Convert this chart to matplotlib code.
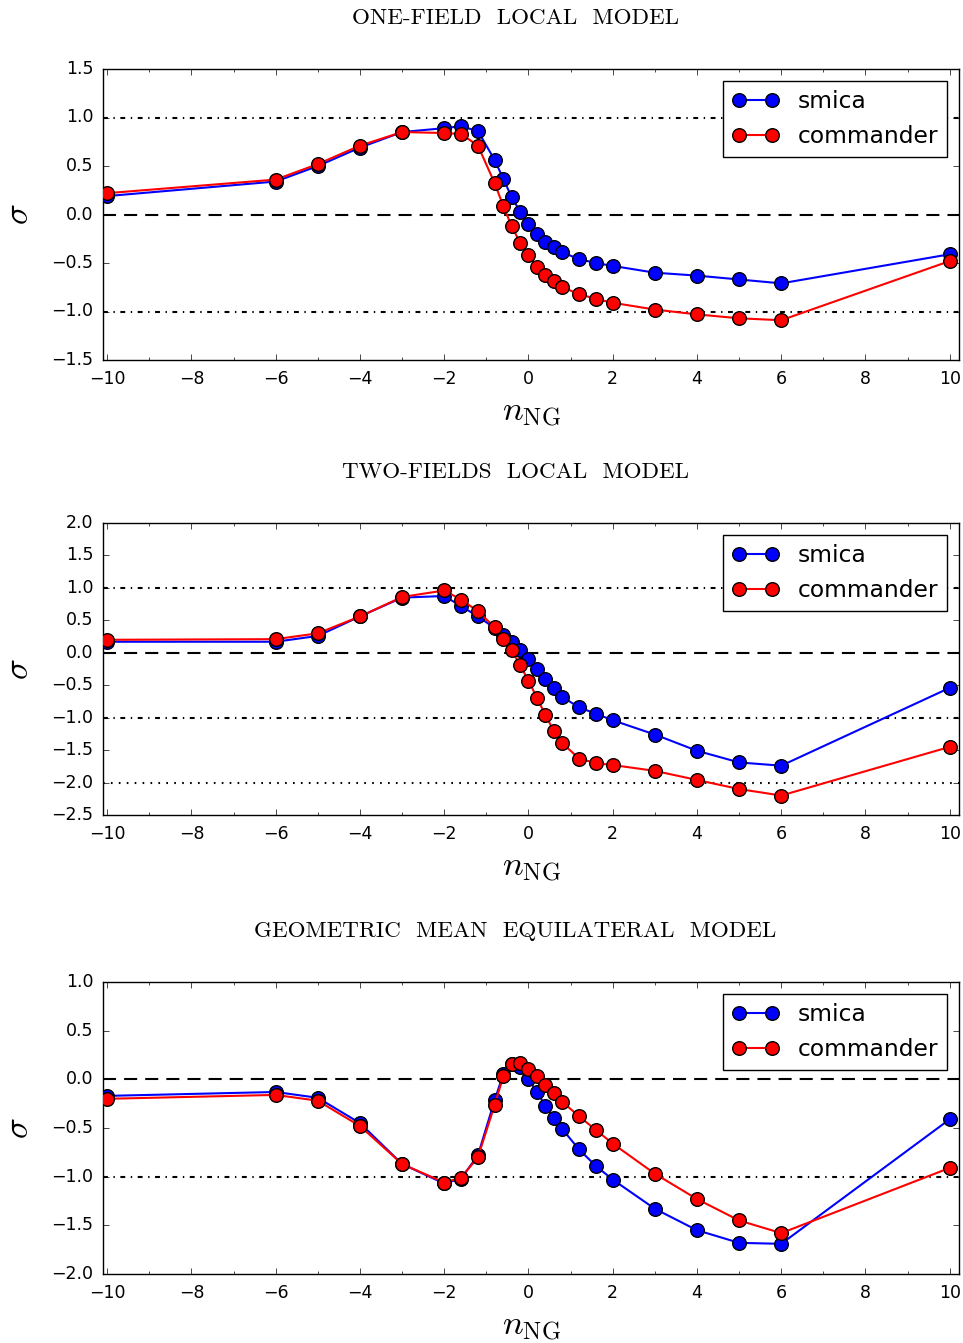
import numpy as np
import matplotlib
matplotlib.use('Agg')
import matplotlib.pyplot as plt
from matplotlib.ticker import MultipleLocator

plt.style.use('classic')
plt.rcParams['mathtext.fontset'] = 'cm'
plt.rcParams['savefig.facecolor'] = 'white'
plt.rcParams['figure.facecolor'] = 'white'

# n_NG sampling
n_ng = [-10, -6, -5, -4, -3, -2, -1.6, -1.2, -0.8, -0.6, -0.4, -0.2, 0,
        0.2, 0.4, 0.6, 0.8, 1.2, 1.6, 2, 3, 4, 5, 6, 10]

# one-field local
local1_smica = [0.19, 0.34, 0.50, 0.69, 0.85, 0.89, 0.91, 0.86, 0.56, 0.37, 0.18, 0.03, -0.10,
                -0.20, -0.28, -0.34, -0.39, -0.46, -0.50, -0.53, -0.60, -0.63, -0.67, -0.71, -0.41]
local1_comm = [0.22, 0.36, 0.52, 0.71, 0.85, 0.84, 0.83, 0.71, 0.32, 0.09, -0.12, -0.29, -0.42,
               -0.54, -0.62, -0.69, -0.75, -0.82, -0.87, -0.91, -0.98, -1.03, -1.07, -1.09, -0.48]

# two-fields local
local2_smica = [0.17, 0.17, 0.26, 0.56, 0.85, 0.875, 0.72, 0.56, 0.38, 0.28, 0.17, 0.04, -0.10,
                -0.25, -0.41, -0.55, -0.68, -0.84, -0.94, -1.04, -1.26, -1.51, -1.69, -1.74, -0.54]
local2_comm = [0.20, 0.21, 0.30, 0.56, 0.86, 0.96, 0.82, 0.64, 0.39, 0.22, 0.04, -0.19, -0.43,
               -0.69, -0.96, -1.20, -1.39, -1.63, -1.70, -1.73, -1.82, -1.96, -2.10, -2.20, -1.45]

# geometric-mean equilateral
equil_smica = [-0.17, -0.13, -0.19, -0.45, -0.87, -1.07, -1.02, -0.78, -0.21, 0.05, 0.16, 0.13, 0.0,
               -0.13, -0.27, -0.40, -0.51, -0.72, -0.89, -1.03, -1.33, -1.55, -1.68, -1.69, -0.41]
equil_comm = [-0.20, -0.16, -0.22, -0.48, -0.87, -1.06, -1.01, -0.80, -0.26, 0.03, 0.16, 0.17, 0.11,
              0.03, -0.06, -0.14, -0.23, -0.38, -0.52, -0.66, -0.97, -1.23, -1.45, -1.58, -0.91]

titles = ['ONE-FIELD  LOCAL  MODEL', 'TWO-FIELDS  LOCAL  MODEL',
          'GEOMETRIC  MEAN  EQUILATERAL  MODEL']
ylims = [(-1.5, 1.5), (-2.5, 2.0), (-2.0, 1.0)]
hlines = [[(1, 'dashdot'), (-1, 'dashdot')],
          [(1, 'dashdot'), (-1, 'dashdot'), (-2, 'dotted')],
          [(-1, 'dashdot')]]
series = [(local1_smica, local1_comm), (local2_smica, local2_comm), (equil_smica, equil_comm)]

# axes boxes in pixel units (fig is 963x1343)
W, H = 963.0, 1343.0
boxes = [(103, 69, 959, 360), (103, 523, 959, 815), (103, 982, 959, 1274)]

fig = plt.figure(figsize=(9.63, 13.43), dpi=100)

styles = {'dashed': (0, (9.4, 5.8)), 'dashdot': (0, (3.5, 4.0, 1.0, 4.0)), 'dotted': (0, (1.2, 4.5))}

for k in range(3):
    x0, y0, x1, y1 = boxes[k]
    ax = fig.add_axes([x0 / W, 1 - y1 / H, (x1 - x0) / W, (y1 - y0) / H])
    s, c = series[k]
    ax.axhline(0, color='k', lw=1.5, linestyle=styles['dashed'], zorder=1)
    for yv, st in hlines[k]:
        ax.axhline(yv, color='k', lw=1.5, linestyle=styles[st], zorder=1)
    ax.plot(n_ng, s, '-o', color='b', mfc='b', mec='k', mew=1.0, ms=9.8, lw=1.5,
            label='smica', zorder=3)
    ax.plot(n_ng, c, '-o', color='r', mfc='r', mec='k', mew=1.0, ms=9.8, lw=1.5,
            label='commander', zorder=4)
    ax.set_xlim(-10.1, 10.22)
    ax.set_ylim(*ylims[k])
    ax.set_xticks(np.arange(-10, 11, 2))
    ax.xaxis.set_minor_locator(MultipleLocator(1))
    ax.set_yticks(np.arange(ylims[k][0], ylims[k][1] + 0.01, 0.5))
    ax.yaxis.set_minor_locator(MultipleLocator(0.5))
    ax.tick_params(labelsize=12.5, pad=7)
    ax.set_xlabel(r'$n_{\rm NG}$', fontsize=25, labelpad=5)
    ax.set_ylabel(r'$\sigma$', fontsize=25, labelpad=12)
    ax.legend(loc='upper right', fontsize=16.8, numpoints=2, fancybox=False,
              borderaxespad=0.5, handlelength=2.0, labelspacing=0.5,
              borderpad=0.4, handletextpad=0.8)
    fig.text(515 / W, 1 - (y0 - 51) / H, titles[k], family='cmr10', fontsize=16.6,
             ha='center', va='center')

fig.savefig('out.png', dpi=100)
